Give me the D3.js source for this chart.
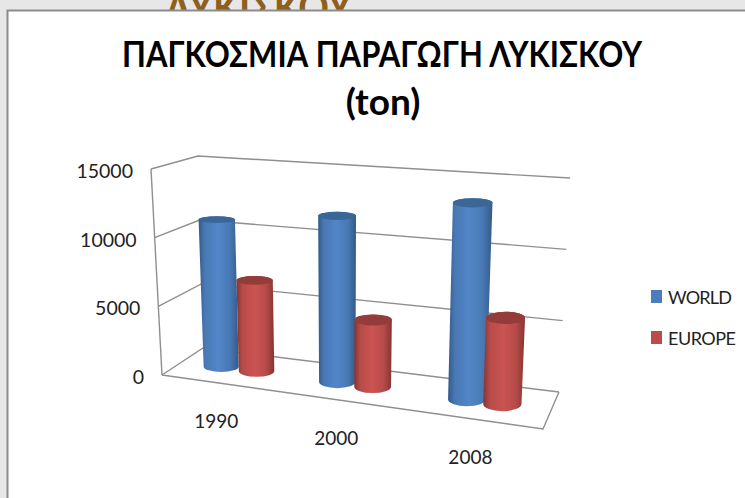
<!DOCTYPE html>
<html>
<head>
<meta charset="utf-8">
<script src="https://cdn.jsdelivr.net/npm/d3@7"></script>
<style>
  html, body { margin: 0; padding: 0; background: #e7e7e7; overflow: hidden; }
  text { font-family: Lato, "Noto Sans", sans-serif; fill: #222; }
</style>
</head>
<body>
<div id="chart"></div>
<script>
// data
const years = ["1990", "2000", "2008"];
const seriesNames = ["WORLD", "EUROPE"];
const world = [10950, 11950, 13600];
const europe = [6700, 4750, 5900];
const valueTicks = [0, 5000, 10000, 15000];
const titleLines = ["ΠΑΓΚΟΣΜΙΑ ΠΑΡΑΓΩΓΗ ΛΥΚΙΣΚΟΥ", "(ton)"];

const width = 745, height = 498;

const svg = d3.select("#chart").append("svg")
    .attr("width", width)
    .attr("height", height)
    .style("display", "block");

// heading of the slide behind the panel, only a sliver of it shows
svg.append("text")
    .attr("x", 165).attr("y", 24)
    .attr("textLength", 187).attr("lengthAdjust", "spacingAndGlyphs")
    .style("font-size", "46px")
    .style("font-weight", "bold")
    .style("fill", "#8d601f")
    .text("ΛΥΚΙΣΚΟΥ");

svg.append("rect")
    .attr("x", 7.5).attr("y", 10.5)
    .attr("width", 760).attr("height", 510)
    .attr("fill", "#fff")
    .attr("stroke", "#8c8c8c")
    .attr("stroke-width", 2);

// the 3d box: floor corners and the same corners at the top of the axis
const floorCorners = {fl: [162, 375], fr: [543, 429], bl: [203, 348], br: [559, 392]};
const topCorners = {fl: [151, 169], fr: [553, 199], bl: [198, 156], br: [570, 178]};

const valueT = d3.scaleLinear().domain([0, 15000]).range([0, 1]);
// categories do not sit evenly on the floor because of the perspective
const catU = d3.scaleOrdinal().domain(years).range([0.153, 0.468, 0.82]);
const serOffset = d3.scaleOrdinal().domain(seriesNames).range([-0.048, 0.048]);

function bilinear(c, u, d) {
  const front = d3.interpolate(c.fl, c.fr)(u);
  const back = d3.interpolate(c.bl, c.br)(u);
  return d3.interpolate(front, back)(d);
}

// u along the categories, d front to back, v the value
function project(u, d, v) {
  return d3.interpolate(bilinear(floorCorners, u, d), bilinear(topCorners, u, d))(valueT(v));
}

const line = d3.line();
const box = svg.append("g")
    .attr("fill", "none")
    .attr("stroke", "#8f8f8f")
    .attr("stroke-width", 1.4);

valueTicks.forEach(function(v) {
  box.append("path").attr("d", line([project(0, 0, v), project(0, 1, v), project(1, 1, v)]));
});
box.append("path").attr("d", line([project(0, 0, 0), project(1, 0, 0), project(1, 1, 0)]));
box.append("path").attr("d", line([project(0, 0, 0), project(0, 0, 15000)]));

// cylinder shading
const defs = svg.append("defs");
const shades = {
  WORLD: {edge: "#335a88", mid: "#5286c8", cap: "#3b6698", flat: "#4a7ebb"},
  EUROPE: {edge: "#843533", mid: "#cb5452", cap: "#933c3a", flat: "#be4b48"}
};
seriesNames.forEach(function(name) {
  const g = defs.append("linearGradient").attr("id", "grad" + name);
  [[0, shades[name].edge], [0.16, "" + d3.interpolate(shades[name].edge, shades[name].mid)(0.7)],
   [0.48, shades[name].mid], [0.78, "" + d3.interpolate(shades[name].edge, shades[name].mid)(0.7)], [1, shades[name].edge]]
    .forEach(function(s) {
      g.append("stop").attr("offset", s[0]).attr("stop-color", s[1]);
    });
});

function cylinder(name, year, value) {
  const u = catU(year) + serOffset(name);
  const half = 0.047 * (1 + 0.12 * u);
  const baseL = project(u - half, 0.5, 0), baseR = project(u + half, 0.5, 0);
  const topL = project(u - half, 0.5, value), topR = project(u + half, 0.5, value);
  // level the ends so the ellipses are not tipped over with the floor
  const baseY = (baseL[1] + baseR[1]) / 2, topY = (topL[1] + topR[1]) / 2;
  const t = valueT(value);
  const ryBase = 2.5 + 2.5 * u + 2.5;
  const ryTop = 2.5 + 2.5 * u + 2.5 * (1 - t);
  const rxBase = (baseR[0] - baseL[0]) / 2, rxTop = (topR[0] - topL[0]) / 2;

  const g = svg.append("g");
  g.append("path")
      .attr("fill", "url(#grad" + name + ")")
      .attr("d", `M${topL[0]},${topY} L${baseL[0]},${baseY}
        A${rxBase},${ryBase} 0 0 0 ${baseR[0]},${baseY}
        L${topR[0]},${topY} A${rxTop},${ryTop} 0 0 0 ${topL[0]},${topY} Z`);
  g.append("ellipse")
      .attr("cx", (topL[0] + topR[0]) / 2).attr("cy", topY)
      .attr("rx", rxTop).attr("ry", ryTop)
      .attr("fill", shades[name].cap);
}

years.forEach(function(year, i) {
  cylinder("WORLD", year, world[i]);
  cylinder("EUROPE", year, europe[i]);
});

// value labels follow the front edge of the left wall
svg.append("g").selectAll("text")
  .data(valueTicks)
  .join("text")
    .attr("text-anchor", "end")
    .attr("x", d => project(0, 0, d)[0] - 18)
    .attr("y", d => project(0, 0, d)[1] + 9)
    .style("font-size", "19.5px")
    .text(d => d);

// category labels follow the front edge of the floor
svg.append("g").selectAll("text")
  .data(years)
  .join("text")
    .attr("text-anchor", "middle")
    .attr("x", d => project(catU(d), 0, 0)[0] - 4)
    .attr("y", d => project(catU(d), 0, 0)[1] + 45)
    .style("font-size", "19px")
    .text(d => d);

svg.append("text")
    .attr("x", 382).attr("y", 67)
    .attr("text-anchor", "middle")
    .attr("textLength", 520).attr("lengthAdjust", "spacingAndGlyphs")
    .style("font-size", "37px").style("font-weight", "bold").style("fill", "#000")
    .text(titleLines[0]);
svg.append("text")
    .attr("x", 383).attr("y", 115)
    .attr("text-anchor", "middle")
    .style("font-size", "37px").style("font-weight", "bold").style("fill", "#000")
    .text(titleLines[1]);

// legend
const legendY = d3.scalePoint().domain(seriesNames).range([296.5, 337.5]);
const legendLen = {WORLD: 64, EUROPE: 68};
const legend = svg.append("g").selectAll("g")
  .data(seriesNames)
  .join("g")
    .attr("transform", d => `translate(651,${legendY(d)})`);
legend.append("rect")
    .attr("y", -6.5).attr("width", 11).attr("height", 13)
    .attr("fill", d => shades[d].flat);
legend.append("text")
    .attr("x", 17).attr("y", 7)
    .attr("textLength", d => legendLen[d]).attr("lengthAdjust", "spacing")
    .style("font-size", "18px")
    .text(d => d);
</script>
</body>
</html>
